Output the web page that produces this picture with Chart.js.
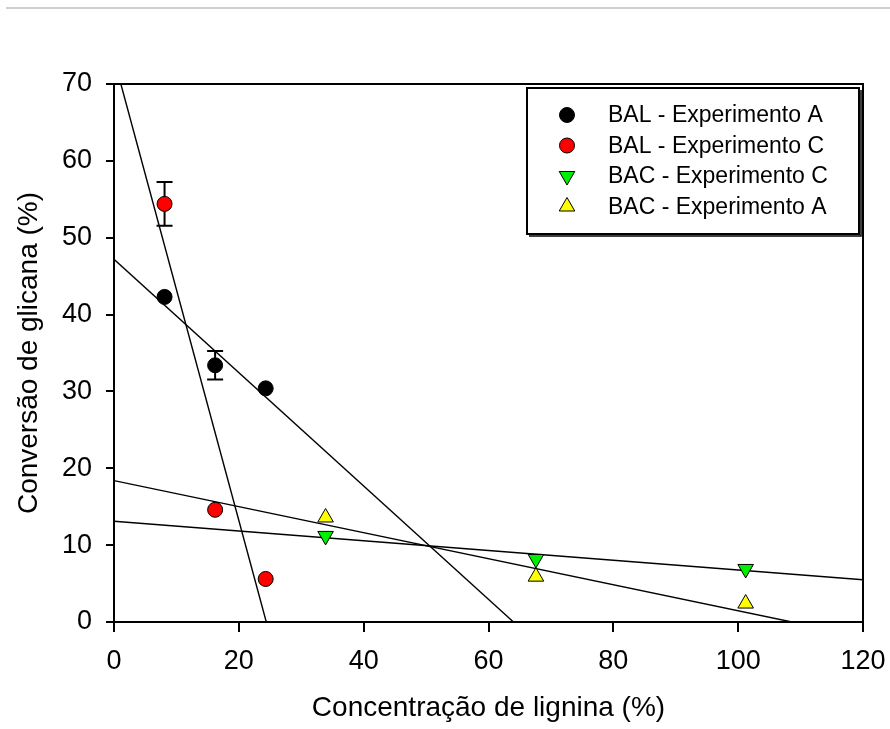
<!DOCTYPE html>
<html><head><meta charset="utf-8">
<script src="https://cdn.jsdelivr.net/npm/chart.js@4/dist/chart.umd.min.js"></script>
<style>html,body{margin:0;padding:0;background:#fff;}canvas{display:block;}</style>
</head><body>
<canvas id="c" width="890" height="729"></canvas>
<script>
// ---- data ----
const seriesNames = ["BAL - Experimento A", "BAL - Experimento C", "BAC - Experimento C", "BAC - Experimento A"];
const balX = [8.1, 16.2, 24.3];
const balA_Y = [42.3, 33.4, 30.4];
const balA_Err = [0, 1.85, 0];
const balC_Y = [54.4, 14.6, 5.6];
const balC_Err = [2.85, 0, 0];
const bacX = [33.9, 67.6, 101.2];
const bacC_Y = [11.2, 8.2, 6.9];
const bacA_Y = [13.6, 5.9, 2.4];
// fitted lines (end points)
const fitBALC_X = [1.1, 24.4];  const fitBALC_Y = [70, 0];
const fitBALA_X = [0, 64.0];    const fitBALA_Y = [47.2, 0];
const fitBACA_X = [0, 108.6];   const fitBACA_Y = [18.4, 0];
const fitBACC_X = [0, 120];     const fitBACC_Y = [13.1, 5.5];
const xTicks = [0, 20, 40, 60, 80, 100, 120];
const yTicks = [0, 10, 20, 30, 40, 50, 60, 70];
const xTitle = "Concentração de lignina (%)";
const yTitle = "Conversão de glicana (%)";

const FONT = "'Liberation Sans', Arial, sans-serif";
const pts = (xs, ys) => xs.map((x, i) => ({x: x, y: ys[i]}));

const markerStyles = [
  {pointStyle: 'circle', radius: 7.5, rotation: 0, bg: '#000000'},
  {pointStyle: 'circle', radius: 7.5, rotation: 0, bg: '#ff0000'},
  {pointStyle: 'triangle', radius: 9, rotation: 180, bg: '#00ee00'},
  {pointStyle: 'triangle', radius: 9, rotation: 0, bg: '#ffff00'}
];
function scatterDs(label, data, m, errs) {
  return {label, data, errs, showLine: false, pointStyle: m.pointStyle, pointRadius: m.radius,
    pointRotation: m.rotation, pointBackgroundColor: m.bg, pointBorderColor: '#000',
    pointBorderWidth: 1, pointHoverRadius: m.radius};
}
function lineDs(data) {
  return {data, showLine: true, pointRadius: 0, borderColor: '#000', borderWidth: 1.4, fill: false, isFit: true};
}

const errorBarPlugin = {
  id: 'errbars',
  beforeDatasetsDraw(chart) {
    const ctx = chart.ctx, xs = chart.scales.x, ys = chart.scales.y;
    ctx.save();
    ctx.strokeStyle = '#000'; ctx.lineWidth = 2;
    chart.data.datasets.forEach(ds => {
      if (!ds.errs) return;
      ds.data.forEach((p, i) => {
        const e = ds.errs[i]; if (!e) return;
        const px = xs.getPixelForValue(p.x);
        const y1 = ys.getPixelForValue(p.y + e), y2 = ys.getPixelForValue(p.y - e);
        ctx.beginPath();
        ctx.moveTo(px, y1); ctx.lineTo(px, y2);
        ctx.moveTo(px - 8, y1); ctx.lineTo(px + 8, y1);
        ctx.moveTo(px - 8, y2); ctx.lineTo(px + 8, y2);
        ctx.stroke();
      });
    });
    ctx.restore();
  }
};

const framePlugin = {
  id: 'frame',
  beforeDraw(chart) {
    const ctx = chart.ctx;
    ctx.save();
    ctx.fillStyle = '#fff'; ctx.fillRect(0, 0, chart.width, chart.height);
    ctx.fillStyle = '#d0d0d0'; ctx.fillRect(6, 7, chart.width - 6, 2);
    ctx.restore();
  },
  afterDraw(chart) {
    const ctx = chart.ctx, a = chart.chartArea;
    ctx.save();
    ctx.strokeStyle = '#000'; ctx.lineWidth = 2;
    ctx.beginPath();
    ctx.moveTo(a.left, a.top); ctx.lineTo(a.right, a.top); ctx.lineTo(a.right, a.bottom);
    ctx.stroke();
    // legend
    const bx = 527, by = 88, bw = 332, bh = 146;
    ctx.fillStyle = '#fff'; ctx.fillRect(bx, by, bw, bh);
    ctx.lineWidth = 2; ctx.strokeRect(bx, by, bw, bh);
    ctx.lineWidth = 1.5;
    ctx.beginPath(); ctx.moveTo(bx + bw + 2, by + 2); ctx.lineTo(bx + bw + 2, by + bh + 2); ctx.lineTo(bx + 2, by + bh + 2); ctx.stroke();
    const rows = [115, 145.5, 176, 206.5];
    ctx.font = "23px " + FONT;
    ctx.textBaseline = 'middle'; ctx.textAlign = 'left';
    seriesNames.forEach((name, i) => {
      const m = markerStyles[i];
      ctx.fillStyle = m.bg; ctx.strokeStyle = '#000'; ctx.lineWidth = 1;
      Chart.helpers.drawPoint(ctx, {pointStyle: m.pointStyle, radius: m.radius, rotation: m.rotation, borderWidth: 1}, 567, rows[i]);
      ctx.fillStyle = '#000';
      ctx.fillText(name, 608, rows[i] + 1);
    });
    ctx.restore();
  }
};

new Chart(document.getElementById('c'), {
  type: 'scatter',
  data: {
    datasets: [
      scatterDs(seriesNames[0], pts(balX, balA_Y), markerStyles[0], balA_Err),
      scatterDs(seriesNames[1], pts(balX, balC_Y), markerStyles[1], balC_Err),
      scatterDs(seriesNames[2], pts(bacX, bacC_Y), markerStyles[2]),
      scatterDs(seriesNames[3], pts(bacX, bacA_Y), markerStyles[3]),
      lineDs(pts(fitBALC_X, fitBALC_Y)),
      lineDs(pts(fitBALA_X, fitBALA_Y)),
      lineDs(pts(fitBACA_X, fitBACA_Y)),
      lineDs(pts(fitBACC_X, fitBACC_Y))
    ]
  },
  options: {
    responsive: false, animation: false, devicePixelRatio: 1,
    layout: {padding: {top: 84, right: 27, left: 0, bottom: 0}},
    plugins: {legend: {display: false}, tooltip: {enabled: false}},
    scales: {
      x: {
        type: 'linear', min: 0, max: 120,
        afterBuildTicks: s => { s.ticks = xTicks.map(v => ({value: v})); },
        afterFit: s => { s.height = 107; s.paddingLeft = 0; s.paddingRight = 0; },
        ticks: {font: {family: FONT, size: 27}, color: '#000', padding: 13, maxRotation: 0},
        grid: {drawOnChartArea: false, tickLength: 10, color: '#000', lineWidth: 2},
        border: {display: true, color: '#000', width: 2},
        title: {display: true, text: xTitle, font: {family: FONT, size: 28}, color: '#000', padding: {top: 0, bottom: 4}}
      },
      y: {
        type: 'linear', min: 0, max: 70,
        afterBuildTicks: s => { s.ticks = yTicks.map(v => ({value: v})); },
        afterFit: s => { s.width = 114; s.paddingTop = 0; s.paddingBottom = 0; },
        ticks: {font: {family: FONT, size: 27}, color: '#000', padding: 14},
        grid: {drawOnChartArea: false, tickLength: 8, color: '#000', lineWidth: 2},
        border: {display: true, color: '#000', width: 2},
        title: {display: true, text: yTitle, font: {family: FONT, size: 28}, color: '#000', padding: {top: 12, bottom: 0}}
      }
    }
  },
  plugins: [errorBarPlugin, framePlugin]
});
</script>
</body></html>
